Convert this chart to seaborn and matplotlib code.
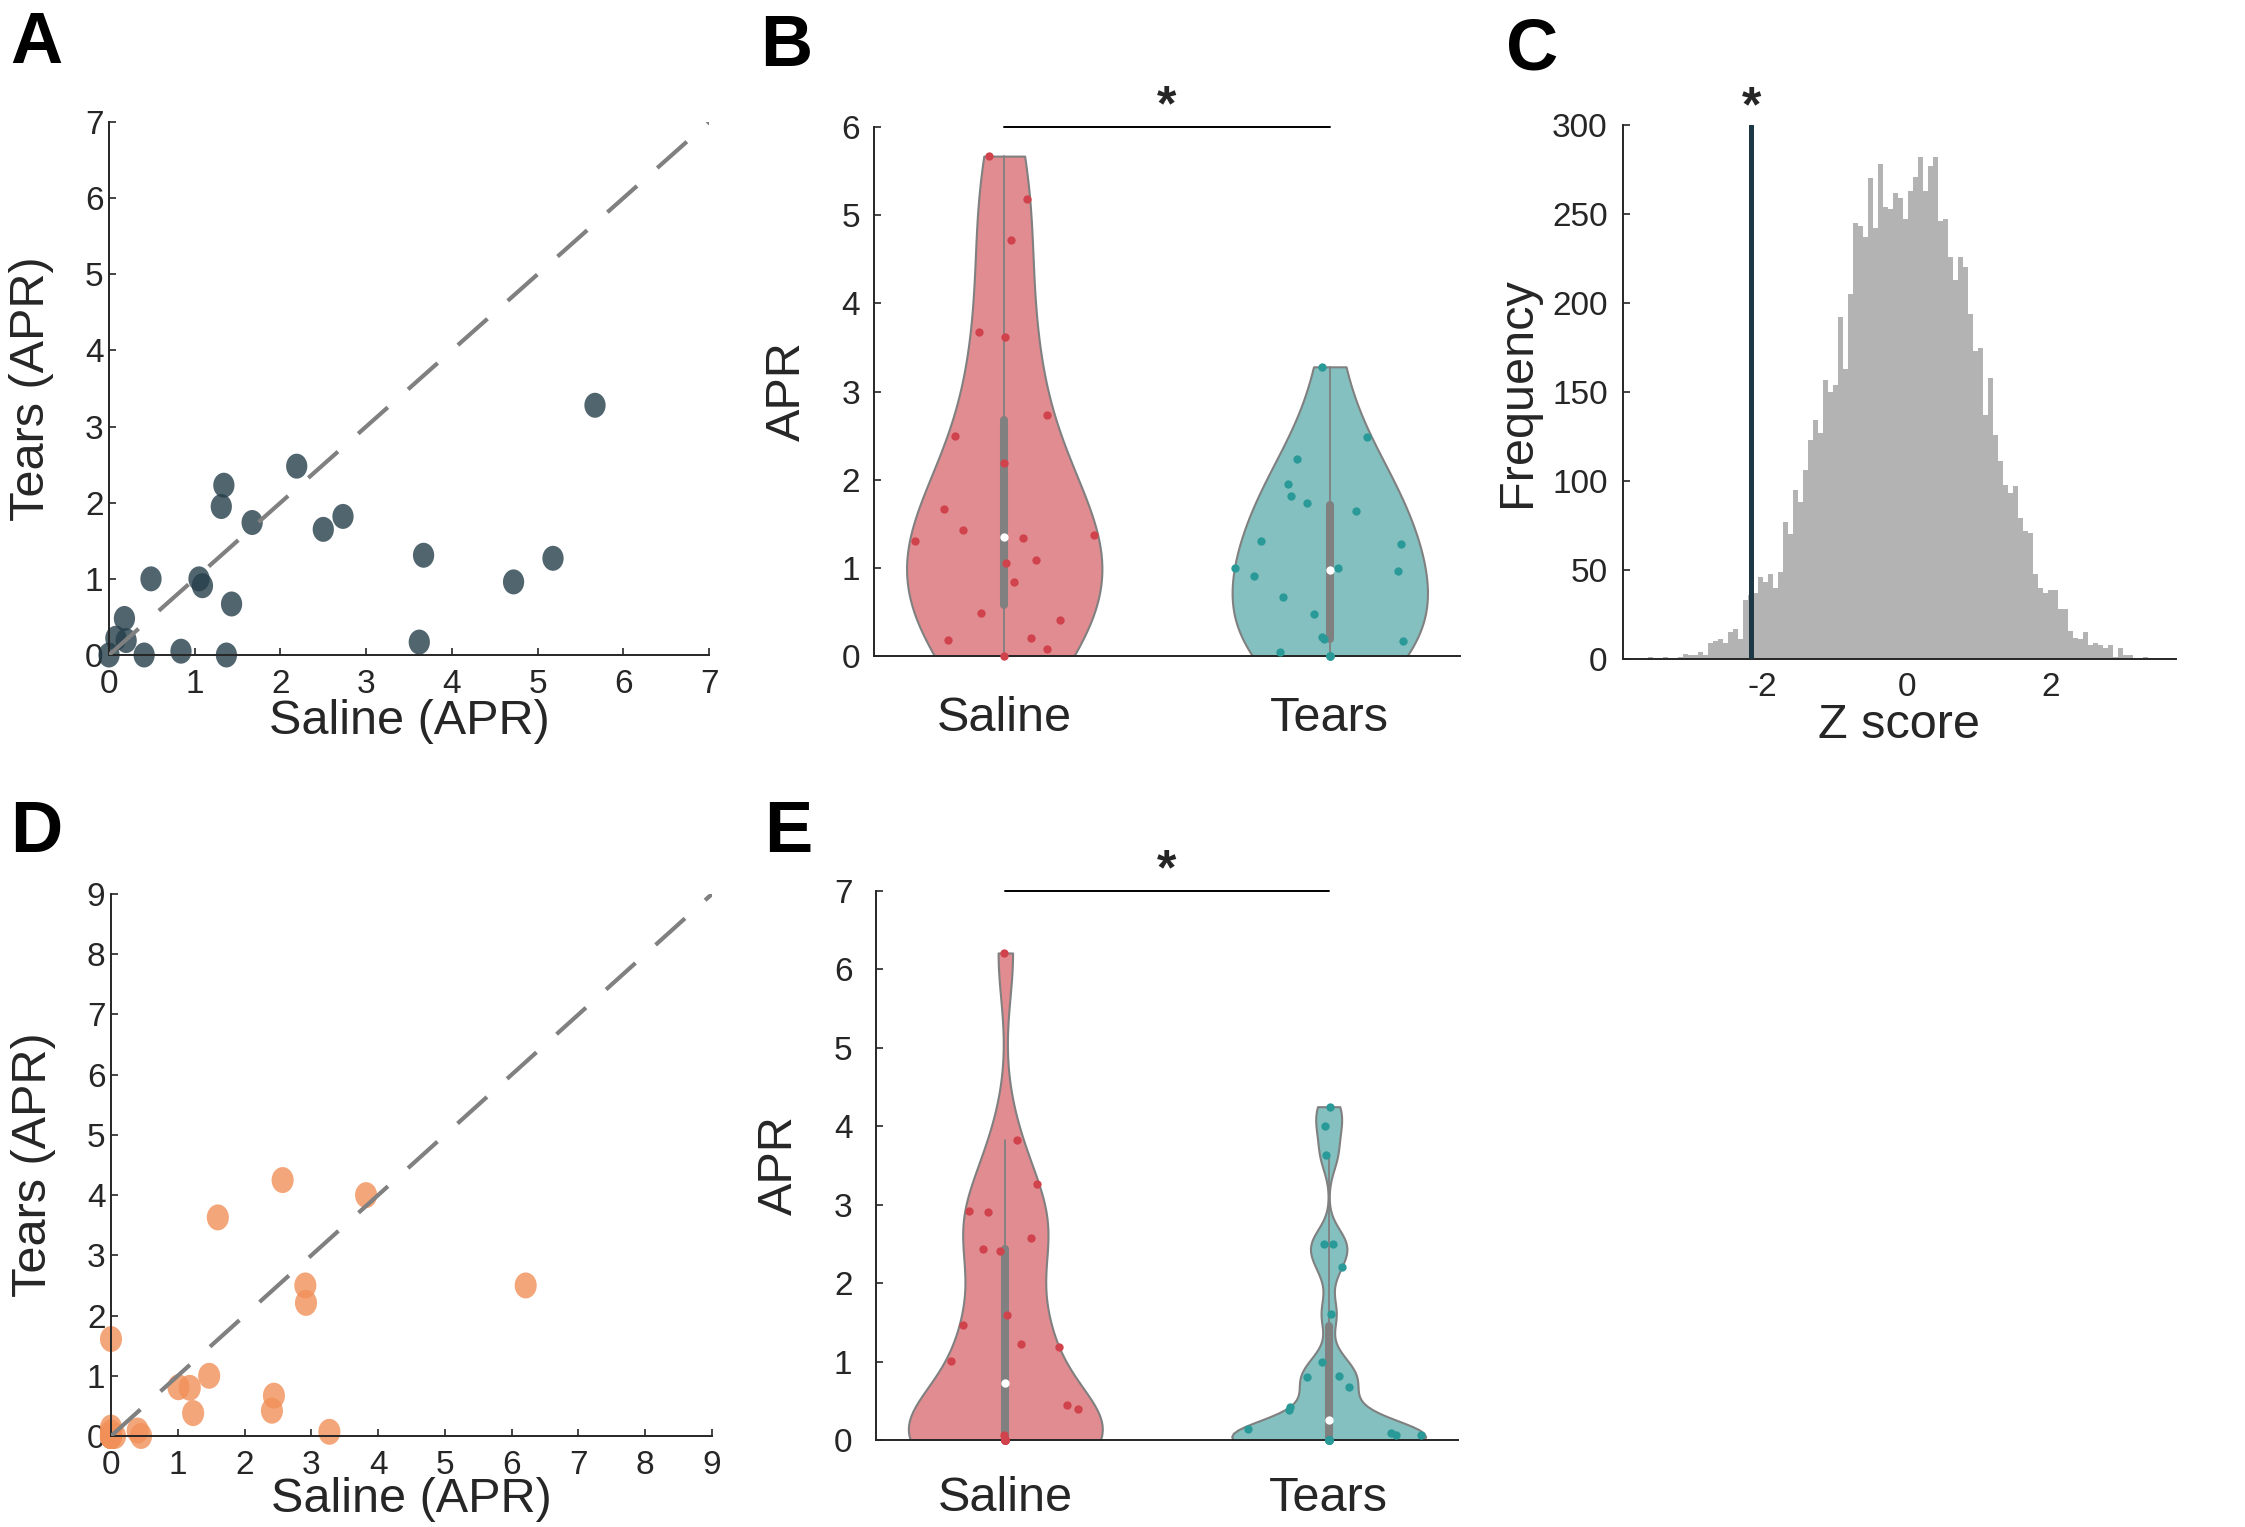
import numpy as np
import pandas as pd
import matplotlib
matplotlib.use("Agg")
import matplotlib.pyplot as plt
import seaborn as sns
from matplotlib.path import Path
from matplotlib.transforms import Affine2D

# ---- data ----
conditions = ["Saline", "Tears"]

# experiment 1 (panels A, B), paired values
saline_1 = [5.67, 2.19, 1.34, 1.31, 1.67, 2.73, 2.50, 3.67, 5.18, 4.72, 0.49,
            1.05, 1.09, 1.43, 0.18, 0.08, 0.20, 3.62, 0.41, 0.84, 1.37, 0.00]
tears_1 = [3.28, 2.48, 2.23, 1.95, 1.74, 1.82, 1.65, 1.31, 1.27, 0.96, 1.00,
           1.00, 0.91, 0.67, 0.48, 0.22, 0.19, 0.17, 0.00, 0.05, 0.00, 0.00]

# experiment 2 (panels D, E), paired values
saline_2 = [2.57, 3.82, 1.60, 2.91, 2.92, 6.21, 0.00, 1.47, 1.01, 1.18, 1.23,
            2.44, 2.41, 3.27, 0.40, 0.45, 0.00, 0.06, 0.00, 0.00, 0.00, 0.00,
            0.00, 0.00, 0.00, 0.00]
tears_2 = [4.25, 4.00, 3.63, 2.50, 2.21, 2.50, 1.61, 1.00, 0.81, 0.80, 0.38,
           0.67, 0.42, 0.07, 0.09, 0.00, 0.14, 0.00, 0.06, 0.00, 0.00, 0.00,
           0.00, 0.00, 0.00, 0.00]

# permutation null distribution (panel C): counts per bin
z_counts = [1, 0, 0, 1, 0, 0, 1, 3, 2, 2,
            4, 2, 9, 10, 11, 9, 15, 17, 11, 33,
            36, 37, 46, 43, 48, 40, 49, 77, 70, 95,
            88, 106, 123, 134, 127, 157, 150, 154, 192, 163,
            205, 245, 243, 237, 270, 242, 278, 254, 253, 262,
            259, 247, 263, 271, 282, 263, 277, 282, 246, 247,
            226, 213, 226, 220, 194, 173, 175, 137, 158, 126,
            111, 98, 93, 97, 79, 72, 71, 48, 40, 37,
            39, 39, 28, 28, 16, 12, 11, 15, 8, 9,
            8, 6, 8, 1, 6, 2, 2, 0, 0, 1]
z_first_edge = -3.59
z_bin_width = 0.0694
z_observed = -2.16

# ---- style ----
sns.set_style("ticks")
plt.rcParams["font.family"] = ["Liberation Sans", "DejaVu Sans"]
plt.rcParams["axes.unicode_minus"] = False
text_color = "#262626"
plt.rcParams["text.color"] = text_color
plt.rcParams["axes.labelcolor"] = text_color
plt.rcParams["xtick.color"] = text_color
plt.rcParams["ytick.color"] = text_color

fill_colors = {"Saline": "#e08c91", "Tears": "#84c0c0"}
dot_colors = {"Saline": "#d1434c", "Tears": "#2a9a98"}
scatter_colors = ["#263f4b", "#f19059"]
ellipse = Path.unit_circle().transformed(Affine2D().scale(0.85, 1.0))
violin_width = 0.6

W, H = 2245, 1527
fig = plt.figure(figsize=(W / 100, H / 100), dpi=100)


def add_axes(left, top, right, bottom):
    return fig.add_axes([left / W, 1 - bottom / H, (right - left) / W, (bottom - top) / H])


def style_axes(ax, xpad, ypad):
    sns.despine(ax=ax)
    for side in ["left", "bottom"]:
        ax.spines[side].set_linewidth(1.4)
        ax.spines[side].set_color(text_color)
    ax.tick_params(direction="in", length=5, width=1.2, labelsize=24)
    ax.tick_params(axis="x", pad=xpad)
    ax.tick_params(axis="y", pad=ypad)


def matlab_bw(values):
    # default ksdensity bandwidth, expressed as a factor of the std
    v = np.asarray(values)
    sig = np.median(np.abs(v - np.median(v))) / 0.6745
    if sig <= 0:
        sig = v.max() - v.min()
    bw = sig * (4 / (3 * len(v))) ** 0.2
    return bw / np.std(v, ddof=1)


def density_jitter(values, bw_factor, seed):
    # spread points sideways in proportion to the violin's density
    v = np.asarray(values)
    bw = bw_factor * np.std(v, ddof=1)
    grid = np.linspace(v.min(), v.max(), 300)
    dens = lambda at: np.exp(-0.5 * ((at[:, None] - v[None, :]) / bw) ** 2).sum(axis=1)
    strength = dens(v) / dens(grid).max() * violin_width / 2
    u = np.random.default_rng(seed).uniform(-1, 1, len(v))
    return np.where(v > 0, u * strength, 0.0)


def scatter_panel(ax, saline, tears, lim, color, size, xlabelpad):
    sns.scatterplot(x=saline, y=tears, color=color, alpha=0.8, s=size,
                    marker=ellipse, edgecolor="none", clip_on=False, ax=ax, zorder=2)
    ax.plot([0, lim], [0, lim], color="#808080", lw=3, ls=(0, (9.5, 6.5)), zorder=3)
    ax.set_xlim(0, lim)
    ax.set_ylim(0, lim)
    ax.set_xticks(range(lim + 1))
    ax.set_yticks(range(lim + 1))
    ax.set_xlabel("Saline (APR)", fontsize=35, labelpad=xlabelpad)
    ax.set_ylabel("Tears (APR)", fontsize=35, labelpad=22)
    style_axes(ax, 10, 4)


def violin_panel(ax, saline, tears, ymax, xpad, ypad, seed):
    groups = {"Saline": saline, "Tears": tears}
    for i, (name, vals) in enumerate(groups.items()):
        bw_factor = matlab_bw(vals)
        df = pd.DataFrame({"position": float(i), "APR": vals})
        sns.violinplot(data=df, x="position", y="APR", native_scale=True, orient="x",
                       color=fill_colors[name], saturation=1, cut=0,
                       density_norm="width", width=violin_width, bw_method=bw_factor,
                       inner="box", inner_kws=dict(box_width=5.8, whis_width=1.3, marker="o"),
                       linecolor="#808080", linewidth=1.5, ax=ax)
        sns.scatterplot(x=df["position"] + density_jitter(vals, bw_factor, seed + i),
                        y=df["APR"], color=dot_colors[name], s=36, linewidth=0,
                        zorder=3, clip_on=False, ax=ax)
    ax.set_xlim(-0.4, 1.4)
    ax.set_ylim(0, ymax)
    ax.set_xticks(range(len(conditions)))
    ax.set_xticklabels(conditions)
    ax.set_yticks(range(ymax + 1))
    ax.set_xlabel("")
    ax.set_ylabel("APR", fontsize=35, labelpad=23)
    style_axes(ax, xpad, ypad)
    ax.tick_params(axis="x", length=0, labelsize=35)
    # significance bar
    ax.plot([0, 1], [ymax, ymax], color="black", lw=1.4, clip_on=False)
    ax.annotate("*", xy=(0.5, ymax), xytext=(0, 5), textcoords="offset points",
                ha="center", va="baseline", fontsize=36, fontweight="bold",
                color=text_color)


# ---- panel A ----
axA = add_axes(109, 122, 709, 655)
scatter_panel(axA, saline_1, tears_1, 7, scatter_colors[0], 324, -1)

# ---- panel B ----
axB = add_axes(874, 127, 1460, 656)
violin_panel(axB, saline_1, tears_1, 6, 29, 10, 11)

# ---- panel C ----
axC = add_axes(1623, 125, 2176, 659)
z_centers = z_first_edge + z_bin_width * (np.arange(len(z_counts)) + 0.5)
hist_df = pd.DataFrame({"z": z_centers, "count": z_counts})
sns.histplot(data=hist_df, x="z", weights="count", bins=len(z_counts),
             binrange=(z_first_edge, z_first_edge + z_bin_width * len(z_counts)),
             element="step", color="#b3b3b3", alpha=1, linewidth=0, ax=axC)
axC.axvline(z_observed, color="#1e3744", lw=3.6, zorder=3)
axC.annotate("*", xy=(z_observed, 300), xytext=(0, 3), textcoords="offset points",
             ha="center", va="baseline", fontsize=36, fontweight="bold", color=text_color)
axC.set_xlim(-3.94, 3.74)
axC.set_ylim(0, 300)
axC.set_xticks([-2, 0, 2])
axC.set_yticks(range(0, 301, 50))
axC.set_xlabel("Z score", fontsize=35, labelpad=0)
axC.set_ylabel("Frequency", fontsize=35, labelpad=9)
style_axes(axC, 9, 11)

# ---- panel D ----
axD = add_axes(111, 894, 712, 1436)
scatter_panel(axD, saline_2, tears_2, 9, scatter_colors[1], 350, -3)

# ---- panel E ----
axE = add_axes(876, 891, 1458, 1440)
violin_panel(axE, saline_2, tears_2, 7, 26, 17, 5)

# ---- panel letters ----
for letter, (x, y) in {"A": (36, 63), "B": (786, 66), "C": (1532, 69),
                       "D": (36, 852), "E": (788, 852)}.items():
    fig.text(x / W, 1 - y / H, letter, fontsize=52, fontweight="bold",
             ha="center", va="baseline", color="black")

fig.savefig("out.png", dpi=100)
